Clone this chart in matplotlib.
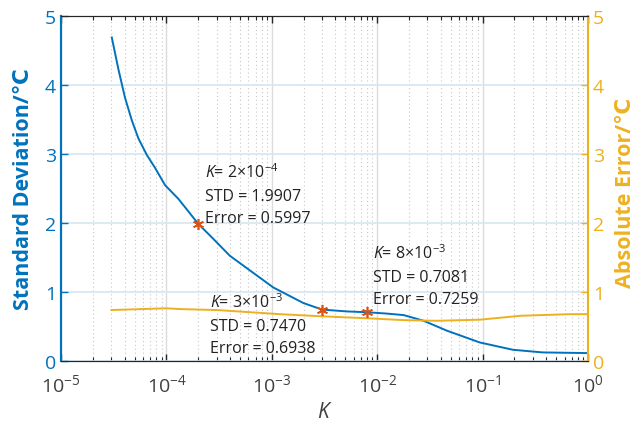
import matplotlib
matplotlib.use("Agg")
import matplotlib.pyplot as plt
from matplotlib.ticker import LogLocator, NullFormatter

plt.rcParams['font.family'] = ['Open Sans', 'DejaVu Sans']
plt.rcParams['mathtext.fontset'] = 'custom'
plt.rcParams['mathtext.rm'] = 'Open Sans'
plt.rcParams['mathtext.it'] = 'Open Sans:italic'

# Regularisation parameter K and the two error measures
k_std = [3.03e-5, 3.5e-5, 4.04e-5, 4.69e-5, 5.41e-5, 6.5e-5, 7.8e-5, 9.7e-5, 1.3e-4,
         2e-4, 2.79e-4, 4e-4, 1.03e-3, 2e-3, 3e-3, 5.1e-3, 8e-3, 1.2e-2, 1.78e-2,
         2.76e-2, 4.6e-2, 9.4e-2, 0.194, 0.37, 1.0]
std_vals = [4.69, 4.23, 3.82, 3.49, 3.23, 2.99, 2.80, 2.55, 2.35,
            1.9907, 1.77, 1.526, 1.068, 0.84, 0.7470, 0.72, 0.7081, 0.69, 0.667,
            0.584, 0.44, 0.27, 0.164, 0.126, 0.116]

k_err = [3e-5, 1e-4, 1.35e-4, 3e-4, 1.2e-3, 2.9e-3, 8.5e-3, 1.78e-2, 3.66e-2,
         9.4e-2, 0.23, 0.67, 1.0]
err_vals = [0.74, 0.765, 0.754, 0.74, 0.68, 0.65, 0.619, 0.594, 0.584,
            0.60, 0.657, 0.68, 0.68]

# Highlighted points and their annotations
marked_k = [2e-4, 3e-3, 8e-3]
marked_std = [1.9907, 0.7470, 0.7081]
marked_err = [0.5997, 0.6938, 0.7259]
marked_klabel = [r"2{\times}10^{-4}", r"3{\times}10^{-3}", r"8{\times}10^{-3}"]
label_x = [2.32e-4, 2.59e-4, 9.1e-3]
label_y = [2.667, 0.783, 1.49]
line_step = 0.326

blue = "#0072BD"
orange = "#EDB120"
red = "#D95319"
dark = "#404040"

fig = plt.figure(figsize=(6.36, 4.27), dpi=100)
ax = fig.add_axes([0.096, 0.152, 0.8285, 0.808])
ax2 = ax.twinx()

ax.set_xscale('log')
ax.set_xlim(1e-5, 1)
ax.set_ylim(0, 5)
ax2.set_ylim(0, 5)

# grid
ax.set_axisbelow(True)
ax.xaxis.set_major_locator(LogLocator(base=10, numticks=10))
ax.xaxis.set_minor_locator(LogLocator(base=10, subs=range(2, 10), numticks=20))
ax.xaxis.set_minor_formatter(NullFormatter())
ax.grid(True, which='major', axis='x', color='#dcdcdc', lw=1.0)
ax.grid(True, which='minor', axis='x', color='#c8c8c8', lw=0.8, ls=(0, (1, 2.5)))
ax.grid(True, which='major', axis='y', color='#d6e6f2', lw=1.2)

ax.plot(k_std, std_vals, color=blue, lw=1.4, zorder=3)
ax.plot(k_err, err_vals, color=orange, lw=1.4, zorder=3)
ax.plot(marked_k, marked_std, ls='none', marker=(6, 2, 0), ms=8, mew=1.2,
        color=red, zorder=4)

for kl, s, e, tx, ty in zip(marked_klabel, marked_std, marked_err, label_x, label_y):
    lines = [r"$\mathit{K}$" + "= $" + kl + "$",
             f"STD = {s:.4f}",
             f"Error = {e:.4f}"]
    for i, line in enumerate(lines):
        ax.text(tx, ty - i * line_step, line, fontsize=11.5, color='#222222',
                va='baseline', ha='left', zorder=5)

# ticks
ax.set_yticks([0, 1, 2, 3, 4, 5])
ax2.set_yticks([0, 1, 2, 3, 4, 5])
ax.tick_params(axis='y', colors=blue, labelsize=14, direction='in', length=5, width=1)
ax2.tick_params(axis='y', colors=orange, labelsize=14, direction='in', length=5, width=1)
ax.tick_params(axis='x', which='both', direction='in', top=True, labelcolor=dark,
               labelsize=14, color='#262626')
ax.tick_params(axis='x', which='major', length=5, width=1, pad=9)
ax.tick_params(axis='x', which='minor', length=3, width=0.8)

for sp in ['top', 'bottom']:
    ax.spines[sp].set_color('#262626')
    ax2.spines[sp].set_color('#262626')
ax2.spines['left'].set_color(blue)
ax2.spines['left'].set_linewidth(1.5)
ax2.spines['right'].set_color(orange)
ax2.spines['right'].set_linewidth(1.5)
ax.spines['left'].set_color(blue)
ax.spines['left'].set_linewidth(1.5)
ax.spines['right'].set_visible(False)

ax.set_ylabel("Standard Deviation/℃", color=blue, fontsize=15.5, fontweight='bold',
              va='center', ha='center')
ax.yaxis.set_label_coords(-0.072, 0.5)
ax2.set_ylabel("Absolute Error/℃", color=orange, fontsize=15.5, fontweight='bold',
               va='center', ha='center')
ax2.yaxis.set_label_coords(1.072, 0.49)
ax.set_xlabel(r"$\mathit{K}$", color=dark, fontsize=15, labelpad=4)

fig.savefig("out.png", dpi=100)
